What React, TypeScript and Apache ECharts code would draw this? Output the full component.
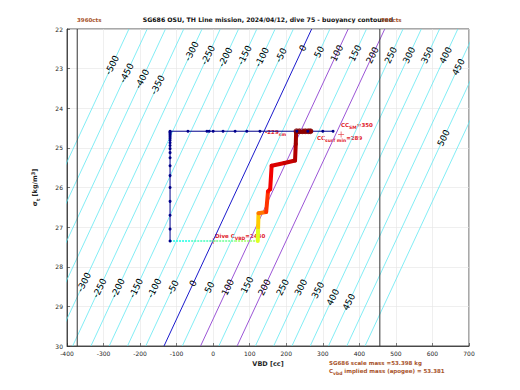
import React, { useEffect, useRef } from 'react';
import * as echarts from 'echarts';

// ---- data ----
const contourLevels = [-500, -450, -400, -350, -300, -250, -200, -150, -100, -50, 0, 50, 100, 150, 200, 250, 300, 350, 400, 450, 500, 550];
const highlightLevels: Record<number, string> = { 0: '#1a1acc', 100: '#9b55d6', 200: '#9b55d6' };

const topLabelLevels = [-500, -450, -400, -350, -300, -250, -200, -150, -100, -50, 0, 50, 100, 150, 200, 250, 300, 350, 400, 450, 500];
const topLabelSigma = [22.91, 23.11, 23.26, 23.41, 22.56, 22.66, 22.71, 22.66, 22.71, 22.66, 22.48, 22.58, 22.61, 22.61, 22.66, 22.66, 22.66, 22.66, 22.66, 22.96, 24.75];
const bottomLabelLevels = [-300, -250, -200, -150, -100, -50, 0, 50, 100, 150, 200, 250, 300, 350, 400, 450];
const bottomLabelSigma = [28.39, 28.54, 28.54, 28.54, 28.54, 28.52, 28.42, 28.52, 28.52, 28.46, 28.52, 28.52, 28.52, 28.59, 28.77, 28.89];

// buoyancy model (zero-buoyancy VBD at sigma 26, slope, cc per gram)
const ZERO_VBD_AT_26 = 67.5;
const VBD_PER_SIGMA = -50.5;
const CC_PER_GRAM = 1.0;
const vbdOnContour = (k: number, s: number) => ZERO_VBD_AT_26 + CC_PER_GRAM * k + VBD_PER_SIGMA * (s - 26);

const vbdLimits = [-372, 456];
const limitLabels = ['3960cts', '585cts'];

const navyVBD = [328, 300, 259, 229, 128, 92, 60, 27, 0, -11, -17, -69, -118,
  -118, -118, -118, -118, -118, -118, -118, -118, -118, -118, -118, -118, -118, -118, -118, -118, -118, -118, -118];
const navySigma = [24.58, 24.58, 24.58, 24.58, 24.58, 24.58, 24.58, 24.58, 24.58, 24.58, 24.58, 24.58, 24.58,
  24.60, 24.62, 24.65, 24.68, 24.72, 24.76, 24.81, 24.87, 24.94, 25.02, 25.12, 25.25, 25.45, 25.7, 26.0, 26.35, 26.7, 27.05, 27.35];

const ascentVBD = [-118, -60, 0, 60, 122, 123, 124, 145, 150, 156, 160, 195, 224, 226, 227, 268];
const ascentSigma = [27.35, 27.35, 27.35, 27.35, 27.35, 27.0, 26.65, 26.62, 26.1, 26.04, 25.45, 25.38, 25.32, 24.9, 24.6, 24.58];
const ascentTime = [0.38, 0.42, 0.46, 0.5, 0.56, 0.63, 0.72, 0.8, 0.85, 0.87, 0.9, 0.92, 0.94, 0.96, 0.98, 1.0];

const topBlobVBD = [228, 236, 244, 252, 260, 266];
const topBlobSigma = [24.58, 24.58, 24.58, 24.58, 24.58, 24.58];

const ccSM = 350;
const ccSMSigma = 24.66;
const cvbdMarkVBD = 0;
const cvbdMarkSigma = 27.35;

const FONT = 'DejaVu Sans';
const AX = '#262626';
const RED = '#e0202a';
const BROWN = '#a8532b';
const LABEL_ROT = (63 * Math.PI) / 180;

function jet(t: number) {
  const c = (v: number) => Math.round(255 * Math.max(0, Math.min(1, v)));
  const r = c(1.5 - Math.abs(4 * t - 3));
  const g = c(1.5 - Math.abs(4 * t - 2));
  const b = c(1.5 - Math.abs(4 * t - 1));
  return `rgb(${r},${g},${b})`;
}

const PLUS = 'path://M-1,-0.12 L1,-0.12 L1,0.12 L-1,0.12 Z M-0.12,-1 L0.12,-1 L0.12,1 L-0.12,1 Z';

function subText(x: number, y: number, parts: [string, boolean][], color: string, size: number) {
  const rich: any = {
    n: { fontSize: size, fontFamily: FONT, fontWeight: 'bold', fill: color, lineHeight: 8, verticalAlign: 'top' },
    s: { fontSize: size - 1, fontFamily: FONT, fontWeight: 'bold', fill: color, lineHeight: 8, verticalAlign: 'bottom' },
  };
  const text = parts.map(([t, sub]) => `{${sub ? 's' : 'n'}|${t}}`).join('');
  return { type: 'text', x, y, silent: true, style: { text, rich, fill: color, align: 'left', verticalAlign: 'middle' } };
}

function labelSeries(levels: number[], sigmas: number[]) {
  return {
    type: 'custom',
    silent: true,
    z: 20,
    clip: false,
    data: levels.map((k, i) => [vbdOnContour(k, sigmas[i]), sigmas[i], k]),
    renderItem: (params: any, api: any) => {
      const p = api.coord([api.value(0), api.value(1)]);
      return {
        type: 'text',
        x: p[0], y: p[1], rotation: LABEL_ROT,
        style: { text: String(api.value(2)), fontSize: 9, fontFamily: FONT, fill: '#000', align: 'center', verticalAlign: 'middle' },
      };
    },
  };
}

export default function App() {
  const ref = useRef<HTMLDivElement>(null);
  const overlayRef = useRef<HTMLDivElement>(null);
  useEffect(() => {
    if (!ref.current || !overlayRef.current) return;
    const chart = echarts.init(ref.current, undefined, { renderer: 'svg' });

    const contourSeries = contourLevels.map((k) => ({
      type: 'line',
      data: [[vbdOnContour(k, 22), 22], [vbdOnContour(k, 30), 30]],
      symbol: 'none',
      silent: true,
      lineStyle: { color: highlightLevels[k] || '#62e8f2', width: highlightLevels[k] ? 1 : 0.8 },
    }));

    const ascentSeries = ascentVBD.slice(0, -1).map((x, i) => {
      const horiz = i < 4;
      return {
        type: 'line',
        data: [[x, ascentSigma[i]], [ascentVBD[i + 1], ascentSigma[i + 1]]],
        symbol: 'none',
        silent: true,
        lineStyle: {
          color: jet((ascentTime[i] + ascentTime[i + 1]) / 2),
          width: horiz ? 1.3 : 4,
          type: horiz ? [2, 1] : 'solid',
          cap: horiz ? 'butt' : 'round',
        },
      };
    });

    const axisCommon = {
      axisLine: { show: true, onZero: false, lineStyle: { color: AX, width: 0.8 } },
      axisTick: { show: true, inside: true, length: 3, lineStyle: { color: AX, width: 0.6 } },
      axisLabel: { fontSize: 6, color: AX, margin: 4, fontFamily: FONT },
      splitLine: { show: true, lineStyle: { color: '#e4e4e4', width: 0.6 } },
    };

    const staticGraphic: any[] = [
      {
        type: 'text', x: 268, y: 19, silent: true,
        style: {
          text: 'SG686 OSU, TH Line mission, 2024/04/12, dive 75 - buoyancy contoured',
          fontSize: 6.2, fontWeight: 'bold', fontFamily: FONT, fill: '#111', align: 'center', verticalAlign: 'middle',
        },
      },
      { type: 'text', x: 77, y: 20, silent: true, style: { text: limitLabels[0], fontSize: 5.5, fontFamily: FONT, fontWeight: 'bold', fill: BROWN, align: 'left', verticalAlign: 'middle' } },
      { type: 'text', x: 381, y: 20, silent: true, style: { text: limitLabels[1], fontSize: 5.5, fontFamily: FONT, fontWeight: 'bold', fill: BROWN, align: 'left', verticalAlign: 'middle' } },
      subText(341, 126, [['CC', false], ['SM', true], ['=350', false]], RED, 5.5),
      subText(317, 139, [['CC', false], ['surf min', true], ['=289', false]], RED, 5.5),
      subText(265, 133, [['-229', false], ['sm', true]], RED, 5.5),
      subText(215, 237, [['Dive C', false], ['VBD', true], ['=2440', false]], RED, 5.5),
      subText(329, 364, [['SG686 scale mass =53.398 kg', false]], BROWN, 5.5),
      subText(329, 372, [['C', false], ['vbd', true], [' implied mass (apogee) = 53.381', false]], BROWN, 5.5),
    ];

    chart.setOption({
      animation: false,
      grid: { left: 67, right: 51, top: 29, bottom: 44, show: true, borderColor: AX, borderWidth: 0.8, backgroundColor: 'transparent' },
      xAxis: {
        type: 'value', min: -400, max: 700, interval: 100, ...axisCommon,
        name: 'VBD [cc]', nameLocation: 'middle', nameGap: 14,
        nameTextStyle: { fontSize: 6.5, fontWeight: 'bold', color: AX, fontFamily: FONT },
      },
      yAxis: {
        type: 'value', min: 22, max: 30, interval: 1, inverse: true, ...axisCommon,
        name: '{a|σ}{s|t}{a| [kg/m}{p|3}{a|]}', nameLocation: 'middle', nameGap: 27,
        nameTextStyle: {
          color: AX,
          rich: {
            a: { fontSize: 6.5, fontWeight: 'bold', fontFamily: FONT, color: AX, lineHeight: 10, verticalAlign: 'middle' },
            s: { fontSize: 5, fontWeight: 'bold', fontFamily: FONT, color: AX, lineHeight: 10, verticalAlign: 'bottom' },
            p: { fontSize: 5, fontWeight: 'bold', fontFamily: FONT, color: AX, lineHeight: 10, verticalAlign: 'top' },
          },
        },
      },
      series: [
        ...contourSeries,
        ...vbdLimits.map((v) => ({
          type: 'line', data: [[v, 22], [v, 30]], symbol: 'none', silent: true,
          lineStyle: { color: '#333333', width: 1 },
        })),
        {
          type: 'line',
          data: navyVBD.map((v, i) => [v, navySigma[i]]),
          symbol: 'circle', symbolSize: 3, showSymbol: true, showAllSymbol: true,
          itemStyle: { color: '#00008c' },
          lineStyle: { color: '#00008c', width: 1 },
          silent: true,
        },
        ...ascentSeries,
        {
          type: 'scatter',
          data: topBlobVBD.map((v, i) => [v, topBlobSigma[i]]),
          symbolSize: 6,
          itemStyle: { color: '#860000' },
          silent: true,
        },
        {
          type: 'scatter',
          data: [[ccSM, ccSMSigma], [cvbdMarkVBD, cvbdMarkSigma]],
          symbol: PLUS, symbolSize: 6,
          itemStyle: { color: RED },
          silent: true,
        },
        labelSeries(bottomLabelLevels, bottomLabelSigma),
      ],
      graphic: staticGraphic,
    } as any);

    // top contour labels: drawn in a transparent overlay chart, placed through the main chart's scales
    const overlay = echarts.init(overlayRef.current, undefined, { renderer: 'svg' });
    const topGraphic = topLabelLevels.map((k, i) => {
      const p = chart.convertToPixel({ gridIndex: 0 }, [vbdOnContour(k, topLabelSigma[i]), topLabelSigma[i]]) as number[];
      return {
        type: 'text', x: p[0], y: p[1], rotation: LABEL_ROT, silent: true,
        style: { text: String(k), fontSize: 9, fontFamily: FONT, fill: '#000', align: 'center', verticalAlign: 'middle' },
      };
    });
    overlay.setOption({ animation: false, graphic: topGraphic });

    return () => {
      overlay.dispose();
      chart.dispose();
    };
  }, []);

  return (
    <div style={{ position: 'fixed', left: 0, top: 0, width: 520, height: 390, background: '#fff' }}>
      <div ref={ref} style={{ position: 'absolute', left: 0, top: 0, width: 520, height: 390 }} />
      <div ref={overlayRef} style={{ position: 'absolute', left: 0, top: 0, width: 520, height: 390, pointerEvents: 'none' }} />
    </div>
  );
}
